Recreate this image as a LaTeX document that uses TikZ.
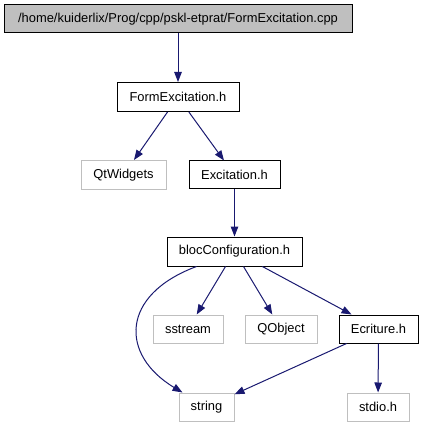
\documentclass[tikz,border=0pt]{standalone}
\usepackage{fontspec}
\setmainfont{Liberation Sans}
\usetikzlibrary{arrows.meta}
\definecolor{edgeblue}{HTML}{191970}
\definecolor{boxgray}{HTML}{BFBFBF}
\definecolor{topfill}{HTML}{BFBFBF}
\tikzset{
  filebox/.style={draw=black, line width=1pt, fill=white, inner sep=0pt, font=\fontsize{12.9}{15}\selectfont},
  extbox/.style={draw=boxgray, line width=1pt, fill=white, inner sep=0pt, font=\fontsize{12.9}{15}\selectfont},
  topbox/.style={filebox, fill=topfill},
  dep/.style={draw=edgeblue, line width=1pt, -{Triangle[length=10pt,width=7.5pt]}},
}
\begin{document}
\begin{tikzpicture}[x=1pt,y=-1pt]
\useasboundingbox (0,0) rectangle (423,427);
\node[topbox, minimum width=348pt, minimum height=28pt] (top) at (178,19) {/home/kuiderlix/Prog/cpp/pskl-etprat/FormExcitation.cpp};
\node[filebox, minimum width=122pt, minimum height=29pt] (form) at (178,97) {FormExcitation.h};
\node[extbox, minimum width=85pt, minimum height=29pt] (qtw) at (123.5,175) {QtWidgets};
\node[filebox, minimum width=91pt, minimum height=28pt] (exc) at (234.5,175) {Excitation.h};
\node[filebox, minimum width=135pt, minimum height=29pt] (bloc) at (234.5,251.5) {blocConfiguration.h};
\node[extbox, minimum width=70pt, minimum height=28pt] (sstream) at (188,329) {sstream};
\node[extbox, minimum width=72pt, minimum height=28pt] (qobj) at (281,329) {QObject};
\node[filebox, minimum width=79pt, minimum height=28pt] (ecr) at (378.5,329) {Ecriture.h};
\node[extbox, minimum width=55pt, minimum height=28pt] (string) at (206.5,407) {string};
\node[extbox, minimum width=62pt, minimum height=28pt] (stdio) at (378,407) {stdio.h};

\draw[dep] (top) -- (form);
\draw[dep] (form) -- (qtw);
\draw[dep] (form) -- (exc);
\draw[dep] (exc) -- (bloc);
\draw[dep] ([xshift=30pt]bloc.south west) .. controls (120,295) and (120,355) .. ([xshift=4pt]string.north west);
\draw[dep] (bloc) -- (sstream);
\draw[dep] (bloc) -- (qobj);
\draw[dep] (bloc) -- (ecr);
\draw[dep] (ecr) -- (string);
\draw[dep] (ecr) -- (stdio);
\end{tikzpicture}
\end{document}
